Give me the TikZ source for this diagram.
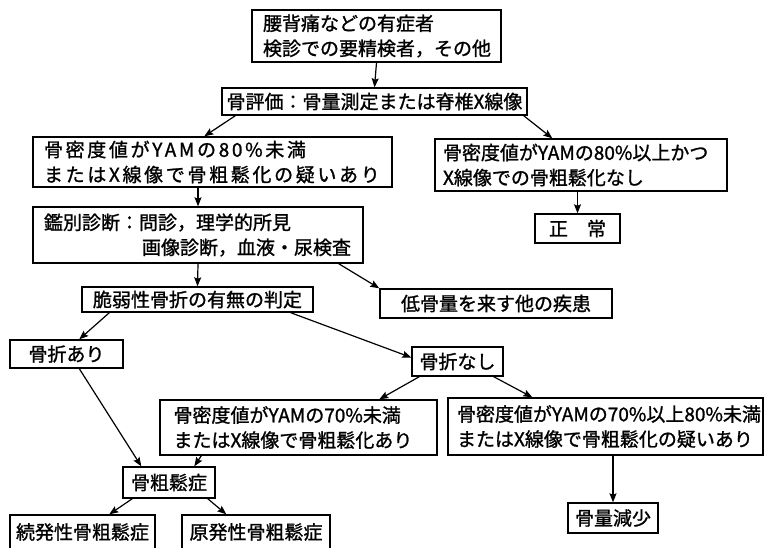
\documentclass[tikz,border=0pt]{standalone}
\usepackage{fontspec}
\setmainfont[FakeBold=1.2]{Noto Sans CJK JP}
\newfontfamily\jpwide[LetterSpace=14,FakeBold=1.2]{Noto Sans CJK JP}
\usetikzlibrary{arrows.meta}
\tikzset{
  box/.style={draw, line width=1.4pt, inner sep=0pt, font=\fontsize{19}{25}\selectfont},
  arr/.style={line width=1.2pt, -{Stealth[length=9pt,width=7pt,inset=1.5pt]}}
}
\begin{document}
\begin{tikzpicture}[x=1pt,y=-1pt]
\useasboundingbox (0,0) rectangle (773,547);
\node[box, minimum width=249pt, minimum height=52pt, text width=227pt, align=left] (n1) at (376.5,36) {腰背痛などの有症者\\検診での要精検者，その他};
\node[box, minimum width=305pt, minimum height=27pt] (n2) at (374.5,101.5) {骨評価：骨量測定または脊椎X線像};
\node[box, minimum width=359pt, minimum height=50pt, text width=337pt, align=left] (n3) at (212.5,162) {\jpwide 骨密度値がYAMの80\%未満\\またはX線像で骨粗鬆化の疑いあり};
\node[box, minimum width=292pt, minimum height=52pt, text width=276pt, align=left] (nR) at (581,165) {骨密度値がYAMの80\%以上かつ\\X線像での骨粗鬆化なし};
\node[box, minimum width=85pt, minimum height=29pt] (nN) at (577.5,228.5) {正\hspace{1em}常};
\node[box, minimum width=330pt, minimum height=56pt, text width=308pt, align=left] (n4) at (198,235) {鑑別診断：問診，理学的所見\\\hspace*{98pt}画像診断，血液・尿検査};
\node[box, minimum width=231pt, minimum height=25pt] (n5) at (197.5,299.5) {脆弱性骨折の有無の判定};
\node[box, minimum width=232pt, minimum height=29pt] (n6) at (496,303.5) {低骨量を来す他の疾患};
\node[box, minimum width=113pt, minimum height=28pt] (n7) at (66.5,354) {骨折あり};
\node[box, minimum width=91pt, minimum height=29pt] (n8) at (457.5,361.5) {骨折なし};
\node[box, minimum width=277pt, minimum height=55pt, text width=250pt, align=left] (n9) at (298.5,427.5) {骨密度値がYAMの70\%未満\\またはX線像で骨粗鬆化あり};
\node[box, minimum width=315pt, minimum height=57pt, text width=297pt, align=left] (n10) at (605.5,426.5) {骨密度値がYAMの70\%以上80\%未満\\またはX線像で骨粗鬆化の疑いあり};
\node[box, minimum width=92pt, minimum height=31pt] (n11) at (169,482.5) {骨粗鬆症};
\node[box, minimum width=145pt, minimum height=34pt] (n12) at (82.5,532) {続発性骨粗鬆症};
\node[box, minimum width=148pt, minimum height=34pt] (n13) at (256,532) {原発性骨粗鬆症};
\node[box, minimum width=90pt, minimum height=30pt] (n14) at (613,518) {骨量減少};

\draw[arr] (n1.south) -- (n2.north);
\draw[arr] ([xshift=14pt]n2.south west) -- ([xshift=172pt]n3.north west);
\draw[arr] ([xshift=-4pt]n2.south east) -- ([xshift=118pt]nR.north west);
\draw[arr] (nR.south -| nN) -- (nN.north);
\draw[arr] (n3.south -| n4) -- (n4.north);
\draw[arr] (n4.south) -- (n5.north);
\draw[arr] ([xshift=-25pt]n4.south east) -- (n6.north west);
\draw[arr] ([xshift=28pt]n5.south west) -- ([xshift=70pt]n7.north west);
\draw[arr] ([xshift=-23pt]n5.south east) -- ([yshift=4pt]n8.west);
\draw[arr] ([xshift=8pt]n8.south west) -- ([xshift=220pt]n9.north west);
\draw[arr] ([xshift=-10pt]n8.south east) -- ([xshift=85pt]n10.north west);
\draw[arr] ([xshift=70pt]n7.south west) -- ([xshift=19pt]n11.north west);
\draw[arr] ([xshift=42pt]n9.south west) -- ([xshift=72pt]n11.north west);
\draw[arr] ([xshift=10pt]n11.south west) -- ([xshift=100pt]n12.north west);
\draw[arr] ([xshift=-8pt]n11.south east) -- ([xshift=45pt]n13.north west);
\draw[arr] (n10.south -| n14) -- (n14.north);
\end{tikzpicture}
\end{document}
